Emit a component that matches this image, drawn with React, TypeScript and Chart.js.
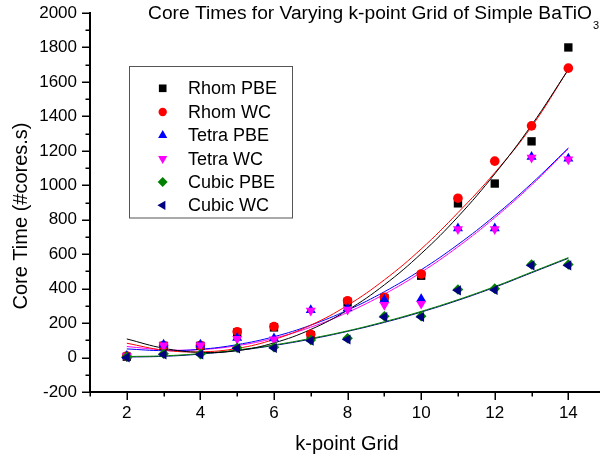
import React, { useEffect, useRef } from 'react';
import { Chart, registerables } from 'chart.js';
import { drawPoint } from 'chart.js/helpers';

Chart.register(...registerables);

// ---------------- data ----------------
const kGrid = [2, 3, 4, 5, 6, 7, 8, 9, 10, 11, 12, 13, 14];

const rhomPBE = [5, 68, 68, 145, 175, 130, 320, 345, 475, 895, 1010, 1255, 1800];
const rhomWC = [8, 70, 70, 150, 180, 135, 330, 350, 485, 925, 1140, 1345, 1680];
const tetraPBE = [10, 75, 75, 115, 112, 275, 285, 335, 340, 750, 750, 1165, 1155];
const tetraWC = [8, 70, 70, 108, 105, 272, 278, 305, 312, 745, 745, 1160, 1150];
const cubicPBE = [5, 22, 20, 57, 60, 102, 112, 240, 240, 395, 400, 540, 540];
const cubicWC = [0, 18, 18, 52, 55, 98, 105, 235, 235, 390, 392, 535, 535];

// fitted curves, read at each k-point
const fitRhomPBE = [108, 54, 30, 40, 85, 163, 275, 422, 603, 817, 1066, 1349, 1672];
const fitRhomWC = [83, 43, 33, 53, 105, 188, 303, 451, 630, 841, 1073, 1340, 1672];
const fitTetraPBE = [50, 40, 48, 75, 121, 188, 275, 382, 509, 656, 823, 1010, 1216];
const fitTetraWC = [64, 45, 46, 69, 112, 176, 262, 368, 495, 643, 812, 1001, 1212];
const fitCubicPBE = [6, 10, 23, 44, 73, 111, 155, 208, 268, 336, 412, 496, 580];
const fitCubicWC = [3, 7, 20, 41, 70, 107, 152, 204, 264, 332, 408, 492, 576];

const seriesNames = ['Rhom PBE', 'Rhom WC', 'Tetra PBE', 'Tetra WC', 'Cubic PBE', 'Cubic WC'];
const seriesValues = [rhomPBE, rhomWC, tetraPBE, tetraWC, cubicPBE, cubicWC];
const fitValues = [fitRhomPBE, fitRhomWC, fitTetraPBE, fitTetraWC, fitCubicPBE, fitCubicWC];

const xTickValues = [2, 4, 6, 8, 10, 12, 14];
const xMinorValues = [1, 3, 5, 7, 9, 11, 13];
const yTickValues = [-200, 0, 200, 400, 600, 800, 1000, 1200, 1400, 1600, 1800, 2000];
const yMinorValues = [-100, 100, 300, 500, 700, 900, 1100, 1300, 1500, 1700, 1900];

const titleMain = 'Core Times for Varying k-point Grid of Simple BaTiO';
const titleSub = '3';
const xTitle = 'k-point Grid';
const yTitle = 'Core Time (#cores.s)';

// ---------------- styles ----------------
const FONT = "'Liberation Sans', Arial, Helvetica, sans-serif";
const colors = ['#000000', '#ff0000', '#0000ff', '#ff00ff', '#008000', '#000080'];
const pointStyles = ['rect', 'circle', 'triangle', 'triangle', 'rectRot', 'triangle'];
const rotations = [0, 0, 0, 180, 0, 270];
const radii = [5.9, 4.8, 5.8, 5.8, 5.3, 5.8];
const legendRadii = [5.4, 4.2, 5.3, 5.3, 5.0, 5.3];

const decorPlugin = {
  id: 'decor',
  afterDraw(chart: any) {
    const { ctx, chartArea } = chart;
    const xs = chart.scales.x;
    const ys = chart.scales.y;
    const left = chartArea.left;
    const bottom = chartArea.bottom;
    ctx.save();

    // axis lines
    ctx.strokeStyle = '#000';
    ctx.lineWidth = 2;
    ctx.beginPath();
    const topPx = ys.getPixelForValue(2000);
    ctx.moveTo(left, topPx - 1);
    ctx.lineTo(left, bottom + 1);
    ctx.moveTo(left - 1, bottom);
    ctx.lineTo(chart.width, bottom);
    ctx.stroke();

    // tick marks
    ctx.lineWidth = 1.5;
    ctx.beginPath();
    for (const v of yTickValues) {
      const py = Math.round(ys.getPixelForValue(v)) + 0.25;
      ctx.moveTo(left - 8, py);
      ctx.lineTo(left, py);
    }
    for (const v of yMinorValues) {
      const py = Math.round(ys.getPixelForValue(v)) + 0.25;
      ctx.moveTo(left - 4.5, py);
      ctx.lineTo(left, py);
    }
    for (const v of xTickValues) {
      const px = Math.round(xs.getPixelForValue(v)) + 0.25;
      ctx.moveTo(px, bottom);
      ctx.lineTo(px, bottom + 8);
    }
    for (const v of xMinorValues) {
      const px = Math.round(xs.getPixelForValue(v)) + 0.25;
      ctx.moveTo(px, bottom);
      ctx.lineTo(px, bottom + 4.5);
    }
    ctx.stroke();

    // title with subscript
    ctx.fillStyle = '#000';
    ctx.textAlign = 'left';
    ctx.textBaseline = 'alphabetic';
    ctx.font = `19.2px ${FONT}`;
    const w = ctx.measureText(titleMain).width;
    const tx = 592 - w;
    ctx.fillText(titleMain, tx, 19);
    ctx.font = `11px ${FONT}`;
    ctx.fillText(titleSub, tx + w + 1, 29);

    // axis titles
    ctx.font = `20px ${FONT}`;
    ctx.textAlign = 'center';
    ctx.fillText(xTitle, 347, 450);
    ctx.save();
    ctx.translate(26.5, 216);
    ctx.rotate(-Math.PI / 2);
    ctx.fillText(yTitle, 0, 0);
    ctx.restore();

    // legend
    const lx = 129.5, ly = 66.5, lw = 163, lh = 151.5;
    ctx.fillStyle = '#fff';
    ctx.fillRect(lx, ly, lw, lh);
    ctx.strokeStyle = '#555';
    ctx.lineWidth = 1;
    ctx.strokeRect(lx, ly, lw, lh);
    const rows = [88.3, 112, 135.3, 158.6, 182, 205.3];
    ctx.font = `18px ${FONT}`;
    ctx.textAlign = 'left';
    ctx.textBaseline = 'middle';
    seriesNames.forEach((name, i) => {
      ctx.fillStyle = colors[i];
      drawPoint(ctx, { pointStyle: pointStyles[i], rotation: rotations[i], radius: legendRadii[i], borderWidth: 0 } as any, 162.7, rows[i]);
      ctx.fillStyle = '#000';
      ctx.fillText(name, 188, rows[i] + 1);
    });

    ctx.restore();
  },
};

export default function App() {
  const ref = useRef<HTMLCanvasElement>(null);

  useEffect(() => {
    const scatterSets = seriesNames.map((name, i) => ({
      label: name,
      data: kGrid.map((k, j) => ({ x: k, y: seriesValues[i][j] })),
      backgroundColor: colors[i],
      borderColor: colors[i],
      pointStyle: pointStyles[i],
      pointRotation: rotations[i],
      pointRadius: radii[i],
      pointHoverRadius: radii[i],
      pointBorderWidth: 0,
      showLine: false,
      order: 10 - i,
    }));
    const fitSets = seriesNames.map((name, i) => ({
      label: name + ' fit',
      data: kGrid.map((k, j) => ({ x: k, y: fitValues[i][j] })),
      borderColor: colors[i],
      backgroundColor: colors[i],
      borderWidth: 1,
      pointRadius: 0,
      pointHoverRadius: 0,
      showLine: true,
      tension: 0.4,
      fill: false,
      order: 20 + i,
    }));

    const tickFont = { family: FONT, size: 17 };
    const chart = new Chart(ref.current as HTMLCanvasElement, {
      type: 'scatter',
      data: { datasets: [...scatterSets, ...fitSets] as any },
      options: {
        animation: false,
        responsive: false,
        devicePixelRatio: 1,
        events: [],
        layout: { padding: { top: 13, right: 0, bottom: 0, left: 0 } },
        plugins: {
          legend: { display: false },
          title: { display: false },
          tooltip: { enabled: false },
        },
        scales: {
          x: {
            type: 'linear',
            min: 1,
            max: 14.7,
            grid: { display: false, drawTicks: false },
            border: { display: false },
            afterBuildTicks: (s: any) => {
              s.ticks = xTickValues.map((v) => ({ value: v }));
            },
            afterFit: (s: any) => {
              s.height = 66;
              s.paddingLeft = 0;
              s.paddingRight = 0;
            },
            ticks: {
              font: tickFont,
              color: '#000',
              padding: 11,
              maxRotation: 0,
              autoSkip: false,
              callback: (v: any) => String(v),
            },
          },
          y: {
            type: 'linear',
            min: -200,
            max: 2000,
            grid: { display: false, drawTicks: false },
            border: { display: false },
            afterBuildTicks: (s: any) => {
              s.ticks = yTickValues.map((v) => ({ value: v }));
            },
            afterFit: (s: any) => {
              s.width = 90;
              s.paddingTop = 0;
              s.paddingBottom = 0;
            },
            ticks: {
              font: tickFont,
              color: '#000',
              padding: 13,
              autoSkip: false,
              callback: (v: any) => String(v),
            },
          },
        },
      } as any,
      plugins: [decorPlugin],
    });
    return () => chart.destroy();
  }, []);

  return (
    <div style={{ position: 'absolute', left: 0, top: 0, width: 600, height: 458, background: '#fff' }}>
      <canvas ref={ref} width={600} height={458} style={{ display: 'block' }} />
    </div>
  );
}
